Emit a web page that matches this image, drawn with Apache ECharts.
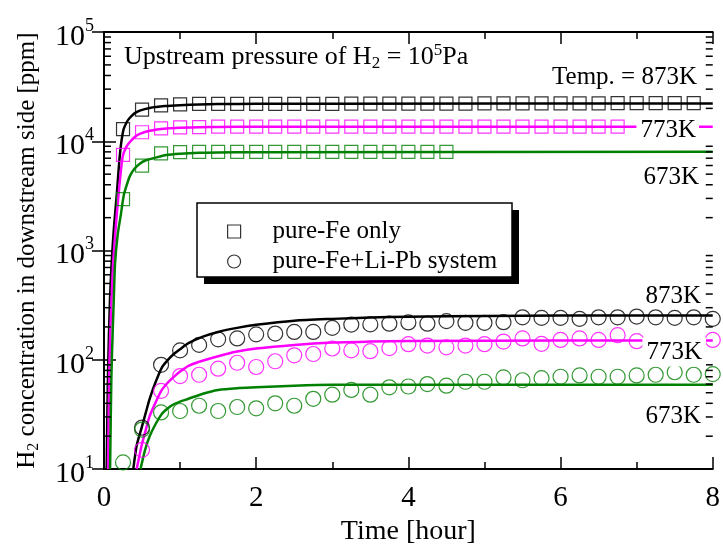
<!DOCTYPE html>
<html><head><meta charset="utf-8">
<script src="https://cdn.jsdelivr.net/npm/echarts@6/dist/echarts.min.js"></script>
<style>html,body{margin:0;padding:0;background:#fff}#c{width:723px;height:551px}</style>
</head><body><div id="c"></div>
<script>
const FONT = '"Liberation Serif", "Times New Roman", serif';

// ---- pure-Fe only (squares) ----
const sq873 = [[0.25,12900],[0.5,19500],[0.75,21300],[1.0,21800],[1.25,22000],[1.5,22000],[1.75,22000],[2.0,22000],[2.25,22000],[2.5,22000],[2.75,22000],[3.0,22000],[3.25,22100],[3.5,22100],[3.75,22100],[4.0,22100],[4.25,22100],[4.5,22100],[4.75,22100],[5.0,22200],[5.25,22200],[5.5,22200],[5.75,22200],[6.0,22200],[6.25,22200],[6.5,22200],[6.75,22300],[7.0,22300],[7.25,22300],[7.5,22300],[7.75,22300]];
const sq773 = [[0.25,7500],[0.5,12100],[0.75,13100],[1.0,13400],[1.25,13500],[1.5,13600],[1.75,13600],[2.0,13600],[2.25,13600],[2.5,13600],[2.75,13600],[3.0,13600],[3.25,13600],[3.5,13600],[3.75,13600],[4.0,13600],[4.25,13600],[4.5,13600],[4.75,13600],[5.0,13600],[5.25,13600],[5.5,13600],[5.75,13600],[6.0,13600],[6.25,13600],[6.5,13600],[6.75,13600]];
const sq673 = [[0.25,2950],[0.5,5980],[0.75,7740],[1.0,7950],[1.25,8000],[1.5,8000],[1.75,8000],[2.0,8000],[2.25,8000],[2.5,8000],[2.75,8000],[3.0,8000],[3.25,8000],[3.5,8000],[3.75,8000],[4.0,8000],[4.25,8000],[4.5,8000]];

// ---- pure-Fe + Li-Pb system (circles) ----
const ci873 = [[0.5,24],[0.75,90],[1.0,122],[1.25,137],[1.5,154],[1.75,157],[2.0,171],[2.25,174],[2.5,180],[2.75,180],[3.0,196],[3.25,210],[3.5,211],[3.75,214],[4.0,220],[4.25,214],[4.5,226],[4.75,218],[5.0,218],[5.25,221],[5.5,245],[5.75,242],[6.0,242],[6.25,237],[6.5,245],[6.75,245],[7.0,249],[7.25,245],[7.5,242],[7.75,245],[8.0,237]];
const ci773 = [[0.5,15],[0.75,52],[1.0,71],[1.25,73],[1.5,83],[1.75,94],[2.0,86],[2.25,97],[2.5,110],[2.75,113],[3.0,127],[3.25,122],[3.5,120],[3.75,128],[4.0,139],[4.25,135],[4.5,130],[4.75,135],[5.0,139],[5.25,147],[5.5,157],[5.75,140],[6.0,152],[6.25,157],[6.5,152],[6.75,168],[7.0,148],[8.0,152]];
const ci673 = [[0.25,11.5],[0.5,23],[0.75,33],[1.0,34],[1.25,38],[1.5,34],[1.75,37],[2.0,36],[2.25,40],[2.5,38],[2.75,44],[3.0,48],[3.25,53],[3.5,48],[3.75,56],[4.0,57],[4.25,60],[4.5,58],[4.75,63],[5.0,63],[5.25,69],[5.5,65],[5.75,68],[6.0,70],[6.25,72],[6.5,70],[6.75,70],[7.0,72],[7.25,73],[7.5,77],[7.75,73],[8.0,74]];

// ---- calculated curves ----
const fit873 = [[0.035,10],[0.05,60],[0.066,180],[0.08,380],[0.10,760],[0.13,1600],[0.167,3200],[0.21,7700],[0.254,12600],[0.3,15000],[0.34,16400],[0.4,18000],[0.47,19100],[0.6,20200],[0.8,21000],[1.0,21400],[1.25,21700],[1.5,21900],[2,22000],[3,22100],[8,22200]];
const fit773 = [[0.053,10],[0.068,70],[0.083,180],[0.1,380],[0.12,760],[0.15,1500],[0.19,3190],[0.245,7240],[0.29,8800],[0.34,9840],[0.4,10900],[0.47,11700],[0.6,12500],[0.82,13100],[1.0,13300],[1.25,13450],[1.5,13500],[2,13600],[8,13600]];
const fit673 = [[0.08,10],[0.097,70],[0.114,180],[0.13,380],[0.145,760],[0.18,1400],[0.22,2100],[0.26,3200],[0.3,4000],[0.34,4800],[0.4,5600],[0.47,6240],[0.55,6700],[0.65,7000],[0.82,7500],[1.0,7700],[1.25,7850],[1.5,7900],[2,7950],[8,8000]];
const fitLi873 = [[0.385,10],[0.43,16.5],[0.495,24],[0.55,33],[0.6,44],[0.68,63],[0.76,85],[0.84,100],[0.91,112],[1.0,125],[1.11,142],[1.3,163],[1.5,180],[1.75,196],[2,209],[2.5,228],[3,237],[3.5,244],[4,248],[5,252],[6,254],[8,255]];
const fitLi773 = [[0.43,10],[0.495,16.5],[0.55,23],[0.6,30.5],[0.68,41],[0.76,53],[0.84,62],[0.91,69],[1.0,78],[1.11,88],[1.25,96],[1.5,108],[1.75,119],[2,127],[2.5,137],[3,144],[3.5,147],[4,149],[6,150],[8,150]];
const fitLi673 = [[0.48,10],[0.54,15],[0.6,20],[0.68,26],[0.76,32],[0.84,36],[0.91,39],[1.0,41.5],[1.11,44],[1.3,49],[1.5,53],[1.75,55],[2,56],[2.5,58],[3,59],[8,59]];

// ---- axis ticks ----
const xTicks = [0,2,4,6,8];
const yLogMinorTicks = [20,30,40,50,60,70,80,90,200,300,400,500,600,700,800,900,2000,3000,4000,5000,6000,7000,8000,9000,20000,30000,40000,50000,60000,70000,80000,90000];

const BLACK = '#000000', MAG = '#ff00ff', GRN = '#008000';

const chart = echarts.init(document.getElementById('c'), null, {renderer:'canvas'});

function lineS(data, color){
  return {type:'line', data:data, showSymbol:false, smooth:0.25,
    lineStyle:{color:color, width:2.5}, itemStyle:{color:color}, z:2, silent:true, clip:true};
}
function scat(name, data, color, sym){
  return {type:'scatter', name:name, data:data, symbol:sym, symbolSize: sym==='rect'?13:15,
    itemStyle:{color:'rgba(0,0,0,0)', borderColor:color, borderWidth:1.2}, z:3, silent:true};
}

const axisCommon = {
  axisLine:{show:true, lineStyle:{color:'#000', width:2}},
  splitLine:{show:false},
};

const option = {
  animation:false,
  backgroundColor:'#fff',
  grid:{left:104, top:32, right:10, bottom:70, containLabel:false},
  xAxis:[
    Object.assign({type:'value', min:0, max:8, interval:2, position:'bottom',
      axisTick:{show:true, inside:true, length:12, lineStyle:{color:'#000', width:1.5}},
      minorTick:{show:true, splitNumber:2, length:7, lineStyle:{color:'#000', width:1.5}},
      axisLabel:{fontFamily:FONT, fontSize:29, color:'#000', margin:15,
        formatter: v => xTicks.indexOf(v) >= 0 ? String(v) : ''},
      name:'Time [hour]', nameLocation:'middle', nameGap:45,
      nameTextStyle:{fontFamily:FONT, fontSize:28, color:'#000'}}, axisCommon),
    Object.assign({type:'value', min:0, max:8, interval:2, position:'top',
      axisTick:{show:true, inside:true, length:12, lineStyle:{color:'#000', width:1.5}},
      minorTick:{show:true, splitNumber:2, length:7, lineStyle:{color:'#000', width:1.5}},
      axisLabel:{show:false}}, axisCommon)
  ],
  yAxis:[
    Object.assign({type:'log', logBase:10, min:10, max:100000, position:'left',
      axisTick:{show:true, inside:true, length:12, lineStyle:{color:'#000', width:1.5}},
      axisLabel:{margin:10, color:'#000',
        formatter: v => '{b|10}{s|' + Math.round(Math.log10(v)) + '}',
        rich:{b:{fontFamily:FONT, fontSize:30, color:'#000', lineHeight:30, padding:[10,0,0,0]},
              s:{fontFamily:FONT, fontSize:18, color:'#000', verticalAlign:'top', lineHeight:20}}},
      name:'{a|H}{sub|2}{a| concentration in downstream side [ppm]}',
      nameLocation:'middle', nameGap:62, nameRotate:90,
      nameTextStyle:{rich:{a:{fontFamily:FONT, fontSize:25, color:'#000', lineHeight:30},
        sub:{fontFamily:FONT, fontSize:16, color:'#000', verticalAlign:'bottom', lineHeight:30}}}}, axisCommon),
    Object.assign({type:'log', logBase:10, min:10, max:100000, position:'right',
      axisTick:{show:true, inside:true, length:12, lineStyle:{color:'#000', width:1.5}},
      axisLabel:{show:false}}, axisCommon)
  ],
  legend:{
    left:222, top:214, orient:'vertical', itemWidth:13, itemHeight:13, itemGap:5, selectedMode:false,
    textStyle:{fontFamily:FONT, fontSize:25, color:'#000', lineHeight:25, padding:[0,0,0,27]},
    data:[
      {name:'pure-Fe only', icon:'rect', itemStyle:{color:'rgba(0,0,0,0)', borderColor:'#000', borderWidth:1.2}},
      {name:'pure-Fe+Li-Pb system', icon:'circle', itemStyle:{color:'rgba(0,0,0,0)', borderColor:'#000', borderWidth:1.2}}
    ],
    z:6
  },
  graphic:[
    {type:'rect', shape:{x:204, y:210, width:315, height:74}, style:{fill:'#000'}, z:4},
    {type:'rect', shape:{x:197, y:203, width:315, height:74}, style:{fill:'#fff', stroke:'#000', lineWidth:1.5}, z:5},
    {type:'text', x:124, y:57, z:10, style:{
      text:'{a|Upstream pressure of H}{sub|2}{a| = 10}{sup|5}{a|Pa}',
      verticalAlign:'middle', align:'left',
      rich:{a:{fontFamily:FONT, fontSize:26, fill:'#000', lineHeight:30},
            sub:{fontFamily:FONT, fontSize:17, fill:'#000', verticalAlign:'bottom', lineHeight:30},
            sup:{fontFamily:FONT, fontSize:17, fill:'#000', verticalAlign:'top', lineHeight:30}}}},
    {type:'text', x:697, y:77, z:10, style:{text:'Temp. = 873K', font:'25px '+FONT, fill:'#000', align:'right', verticalAlign:'middle'}},
    {type:'text', x:699, y:130, z:10, style:{text:'773K', font:'25px '+FONT, fill:'#000', align:'right', verticalAlign:'middle', backgroundColor:'#fff', padding:[2,3,2,4]}},
    {type:'text', x:699, y:177, z:10, style:{text:'673K', font:'25px '+FONT, fill:'#000', align:'right', verticalAlign:'middle'}},
    {type:'text', x:701, y:296, z:10, style:{text:'873K', font:'25px '+FONT, fill:'#000', align:'right', verticalAlign:'middle'}},
    {type:'text', x:706, y:352, z:10, style:{text:'773K', font:'25px '+FONT, fill:'#000', align:'right', verticalAlign:'middle', backgroundColor:'#fff', padding:[2,4,2,4]}},
    {type:'text', x:701, y:416, z:10, style:{text:'673K', font:'25px '+FONT, fill:'#000', align:'right', verticalAlign:'middle'}}
  ],
  series:[
    lineS(fit873, BLACK), lineS(fit773, MAG), lineS(fit673, GRN),
    lineS(fitLi873, BLACK), lineS(fitLi773, MAG), lineS(fitLi673, GRN),
    scat('pure-Fe only', sq873, BLACK, 'rect'),
    scat('pure-Fe only', sq773, MAG, 'rect'),
    scat('pure-Fe only', sq673, GRN, 'rect'),
    scat('pure-Fe+Li-Pb system', ci873, BLACK, 'circle'),
    scat('pure-Fe+Li-Pb system', ci773, MAG, 'circle'),
    scat('pure-Fe+Li-Pb system', ci673, GRN, 'circle'),
    {type:'custom', silent:true, z:4, xAxisIndex:0, yAxisIndex:0,
      data: yLogMinorTicks.map(v => [0, v]),
      renderItem: function(params, api){
        const p = api.coord([0, api.value(1)]);
        const cs = params.coordSys;
        return {type:'group', children:[
          {type:'line', shape:{x1:cs.x, y1:p[1], x2:cs.x+7, y2:p[1]}, style:{stroke:'#000', lineWidth:1.5}},
          {type:'line', shape:{x1:cs.x+cs.width, y1:p[1], x2:cs.x+cs.width-7, y2:p[1]}, style:{stroke:'#000', lineWidth:1.5}}
        ]};
      }}
  ]
};
chart.setOption(option);
</script></body></html>
